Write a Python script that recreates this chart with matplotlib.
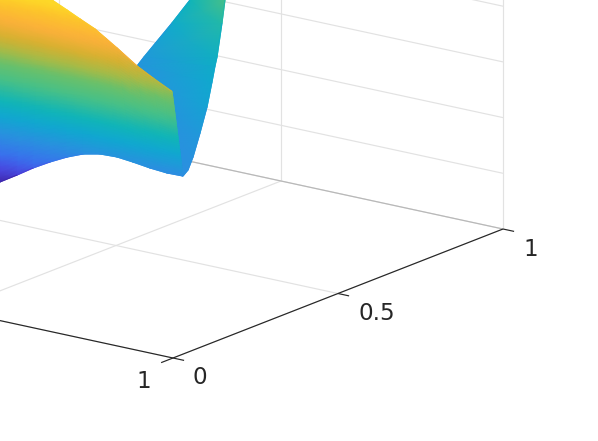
import numpy as np
import matplotlib
matplotlib.use("Agg")
import matplotlib.pyplot as plt
from matplotlib.collections import LineCollection
from matplotlib.colors import LinearSegmentedColormap, Normalize

# Tick positions
x_ticks = [0, 0.5, 1]
y_ticks = [0, 0.5, 1]
z_ticks = [0, 0.2, 0.4, 0.6, 0.8, 1.0, 1.2]
x_tick_labels = ["0", "0.5", "1"]
y_tick_labels = ["0", "0.5", "1"]

# Front sheet of the surface, lies at y = 0.1
front_y = 0.1
front_x_low = [0.5135, 0.536, 0.5743, 0.6104, 0.6486, 0.6869, 0.723, 0.7613, 0.7995, 0.8356, 0.8739, 0.9122, 0.9482]
front_z_low = [0.4036, 0.4259, 0.4639, 0.5016, 0.5364, 0.5673, 0.5907, 0.604, 0.6065, 0.6007, 0.5925, 0.5878, 0.5892]
front_x_high = [0.5135, 0.5586, 0.6036, 0.6261, 0.6532, 0.6869, 0.7162, 0.75, 0.7748, 0.7995, 0.8446, 0.8806, 0.9234]
front_z_high = [1.2223, 1.1838, 1.1562, 1.139, 1.1196, 1.0952, 1.0732, 1.0488, 1.0233, 0.9978, 0.9486, 0.9178, 0.884]

# Back sheet of the surface, lies at x = 0.9
back_x = 0.9
back_y_left = [0.1648, 0.1558, 0.1406, 0.1103, 0.077, 0.0467, 0.0255, 0.0467, 0.1315, 0.186]
back_z_left = [0.5426, 0.5756, 0.6223, 0.7224, 0.8312, 0.935, 1.0022, 1.0248, 1.1074, 1.1648]
back_y_right = [0.1648, 0.18, 0.1952, 0.2164, 0.2376, 0.2527, 0.2618, 0.2679, 0.283, 0.2921]
back_z_right = [0.5426, 0.5573, 0.5968, 0.6732, 0.7569, 0.8395, 0.8926, 0.9221, 1.0373, 1.1156]
back_c_left = [0.26, 0.26, 0.26, 0.26, 0.26, 0.27, 0.28, 0.30, 0.38, 0.44]
back_c_right = [0.26, 0.26, 0.27, 0.30, 0.34, 0.37, 0.39, 0.41, 0.48, 0.55]

color_pos = [0, 0.074, 0.153, 0.258, 0.363, 0.442, 0.547, 0.642, 0.705, 0.784, 0.863, 0.968, 1]
color_hex = ["#3e26a8", "#4a45e0", "#3a70ee", "#2a90e0", "#10a8d0", "#10b5b8", "#45c08a",
             "#6bc06a", "#a5bb48", "#d8b030", "#fbb03a", "#fdc829", "#fdd828"]


def project(x, y, z):
    # view of the 3d axes, gives pixels in the figure
    x, y, z = np.asarray(x, float), np.asarray(y, float), np.asarray(z, float)
    sx = 173 - 444 * (1 - x) + 330 * y
    sy = 358 - 96 * (1 - x) - 129 * y - 278.5 * z
    return sx, sy


def line3d(ax, xs, ys, zs, color, lw=0.85, zorder=1):
    sx, sy = project(xs, ys, zs)
    ax.plot(sx, sy, color=color, lw=lw, zorder=zorder, solid_capstyle="butt")


def edge(ax, sx, sy, colors, zorder):
    # thin coloured line along a sheet border, keeps the border smooth
    pts = np.column_stack([sx, sy])
    segs = np.stack([pts[:-1], pts[1:]], axis=1)
    ax.add_collection(LineCollection(segs, colors=colors[:-1], linewidths=0.8, zorder=zorder))


fig = plt.figure(figsize=(5.98, 4.41), dpi=100)
ax = fig.add_axes([0, 0, 1, 1])
ax.set_xlim(0, 598)
ax.set_ylim(441, 0)
ax.axis("off")

cmap = LinearSegmentedColormap.from_list("parula_like", list(zip(color_pos, color_hex)))
norm = Normalize(0.419, 1.101)
back_norm = Normalize(0, 1)

grid_color = "#e2e2e2"
back_edge = "#b8b8b8"
axis_color = "#262626"

# Grid on the floor and the back wall
for y in y_ticks:
    line3d(ax, [0, 1], [y, y], [0, 0], grid_color)
for x in x_ticks:
    line3d(ax, [x, x], [0, 1], [0, 0], grid_color)
    line3d(ax, [x, x], [1, 1], [0, 1.4], grid_color)
for z in z_ticks[1:]:
    line3d(ax, [0, 1], [1, 1], [z, z], grid_color)
line3d(ax, [0, 1], [1, 1], [0, 0], back_edge, zorder=1.5)

# Back sheet
back_yy = np.column_stack([back_y_left, back_y_right])
back_zz = np.column_stack([back_z_left, back_z_right])
back_cc = np.column_stack([back_c_left, back_c_right])
sx, sy = project(back_x, back_yy, back_zz)
ax.pcolormesh(sx, sy, back_cc, cmap=cmap, norm=back_norm, shading="gouraud", zorder=2)
edge(ax, sx[:, 0], sy[:, 0], cmap(back_norm(back_cc[:, 0])), 2.1)
edge(ax, sx[:, 1], sy[:, 1], cmap(back_norm(back_cc[:, 1])), 2.1)

# Front sheet, coloured by height
rows = np.linspace(0, 1, 40)[:, None]
xx = np.array(front_x_low) + rows * (np.array(front_x_high) - np.array(front_x_low))
zz = np.array(front_z_low) + rows * (np.array(front_z_high) - np.array(front_z_low))
sx, sy = project(xx, front_y, zz)
ax.pcolormesh(sx, sy, zz, cmap=cmap, norm=norm, shading="gouraud", zorder=3)
edge(ax, sx[0], sy[0], cmap(norm(zz[0])), 3.1)
edge(ax, sx[-1], sy[-1], cmap(norm(zz[-1])), 3.1)
edge(ax, sx[:, -1], sy[:, -1], cmap(norm(zz[:, -1])), 3.1)

# Axis lines, ticks and labels
line3d(ax, [0, 1], [0, 0], [0, 0], axis_color, zorder=4)
line3d(ax, [1, 1], [0, 1], [0, 0], axis_color, zorder=4)
for x, label in zip(x_ticks, x_tick_labels):
    line3d(ax, [x, x], [0, -0.036], [0, 0], axis_color, zorder=4)
    sx, sy = project(x, 0, 0)
    ax.annotate(label, (sx, sy), xytext=(-22, -23), textcoords="offset pixels",
                ha="right", va="center", fontsize=16.6, color=axis_color)
for y, label in zip(y_ticks, y_tick_labels):
    line3d(ax, [1, 1.025], [y, y], [0, 0], axis_color, zorder=4)
    sx, sy = project(1, y, 0)
    ax.annotate(label, (sx, sy), xytext=(20, -20), textcoords="offset pixels",
                ha="left", va="center", fontsize=16.6, color=axis_color)

fig.savefig("out.png", dpi=100)
